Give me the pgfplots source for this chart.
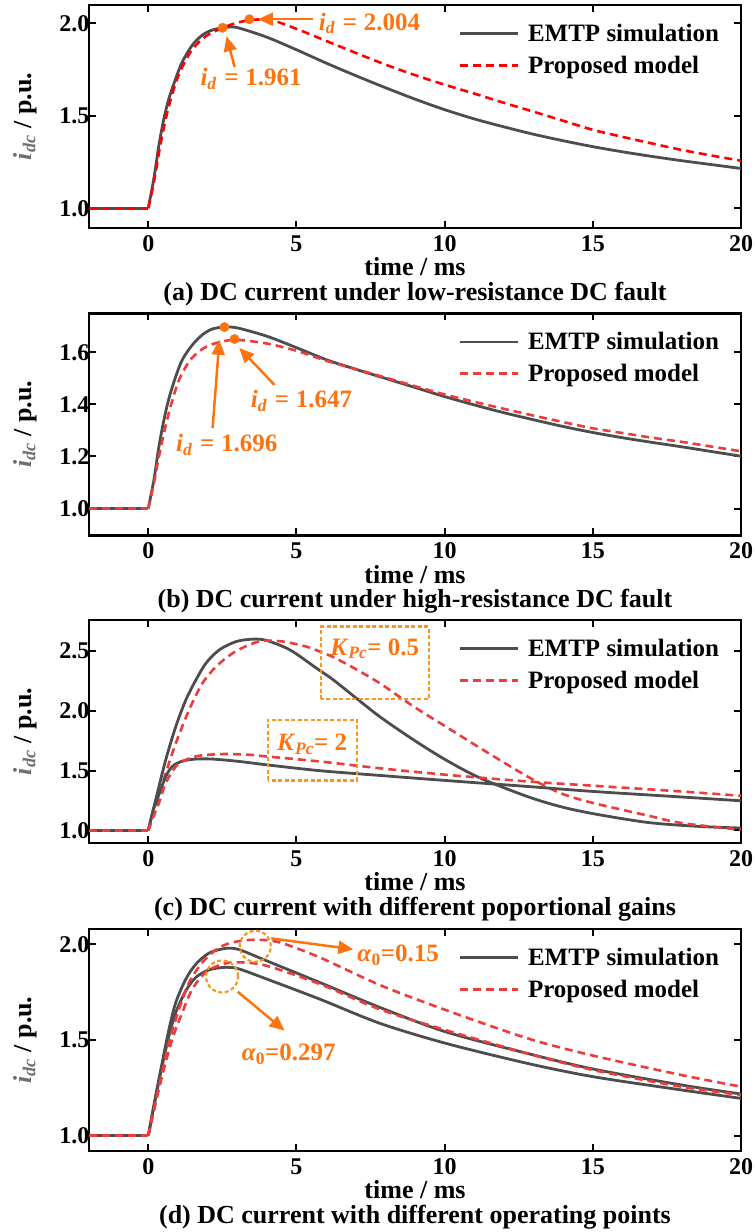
\documentclass[border=0pt]{standalone}
\usepackage{fontspec}
\setmainfont{Liberation Serif}
\usepackage{pgfplots}
\pgfplotsset{compat=1.18}
\usetikzlibrary{arrows.meta}
\definecolor{emtpc}{RGB}{77,77,77}
\definecolor{redA}{RGB}{255,0,0}
\definecolor{redB}{RGB}{236,60,60}
\definecolor{ann}{RGB}{255,115,15}
\definecolor{annbox}{RGB}{250,150,30}
\definecolor{ylab}{RGB}{110,110,110}
\newcommand{\tickfont}{\fontsize{24}{28}\selectfont\bfseries}
\newcommand{\labfont}{\fontsize{26}{30}\selectfont\bfseries}
\newcommand{\annfont}{\fontsize{25}{30}\selectfont\bfseries}
\newcommand{\idd}{\textit{i}\textsubscript{\textit{d}}\hspace{0.3em}=\hspace{0.27em}}
\tikzset{
 annarrow/.style={ann, line width=2.5pt, -{Triangle[length=15pt,width=13pt]}},
 anntext/.style={ann, font=\annfont, inner sep=0pt},
 boxstyle/.style={annbox, line width=2.2pt, dash pattern=on 4pt off 2.5pt},
 captext/.style={font=\labfont, inner sep=0pt},
}
\pgfplotsset{
 myax/.style={
  scale only axis, width=652pt, height=223pt,
  xmin=-2, xmax=20, xtick={0,5,10,15,20},
  axis line style={line width=2.4pt},
  tick style={line width=2pt, black},
  major tick length=7pt,
  tick align=inside,
  clip=false,
  tick label style={font=\tickfont},
  /pgf/number format/assume math mode=true,
  yticklabel style={/pgf/number format/fixed, /pgf/number format/fixed zerofill, /pgf/number format/precision=1, xshift=4pt},
  xticklabel style={yshift=-4pt},
  xlabel={time / ms},
  xlabel style={font=\labfont, inner sep=0pt, at={(rel axis cs:0.5,0)}, anchor=center, yshift=-39pt},
  ylabel={\textcolor{ylab}{\textit{i}\textsubscript{\textit{dc}}} / p.u.},
  ylabel style={font=\labfont, at={(rel axis cs:-0.0982,0.5)}, anchor=center},
  legend style={draw=none, fill=none, at={(rel axis cs:0.566,1)}, anchor=north west, yshift=-17pt, font=\annfont, row sep=9pt, column sep=7pt, inner sep=0pt},
  legend cell align=left,
  legend image code/.code={\draw[##1] (0pt,0pt) -- (58pt,0pt);},
 },
 emtpline/.style={color=emtpc, line width=2.8pt, no markers},
 redline/.style={color=redB, line width=2.6pt, dash pattern=on 8pt off 5pt, no markers},
}
\begin{document}
\begin{tikzpicture}
\useasboundingbox (0,0) rectangle (755pt,-1232pt);
% ---------------- (a)
\begin{axis}[myax, at={(89pt,-5pt)}, anchor=north west, ymin=0.893, ymax=2.099, ytick={1,1.5,2}]
\addplot[emtpline] coordinates {(-2,1) (0,1)};
\addlegendentry{EMTP simulation}
\addplot[redline, color=redA] coordinates {(-2,1) (0,1)};
\addlegendentry{Proposed model}
\addplot[emtpline, smooth, forget plot] coordinates {(0,1) (0.19,1.162) (0.36,1.342) (0.53,1.486) (0.70,1.595) (0.93,1.703) (1.15,1.792) (1.49,1.883) (1.83,1.937) (2.17,1.964) (2.62,1.978) (3.0,1.977) (4.0,1.925) (5.0,1.857) (6.0,1.785) (7.0,1.717) (8.0,1.652) (9.0,1.59) (10.0,1.533) (11,1.483) (12,1.44) (13,1.40) (14,1.365) (15,1.333) (16,1.305) (17,1.28) (18,1.257) (19,1.236) (20,1.215)};
\addplot[redline, color=redA, smooth, forget plot] coordinates {(0,1) (0.19,1.14) (0.36,1.30) (0.53,1.44) (0.70,1.555) (0.93,1.68) (1.15,1.765) (1.49,1.86) (1.94,1.93) (2.51,1.976) (3.07,2.006) (3.6,2.02) (4.2,2.015) (5.0,1.97) (6.0,1.905) (7.0,1.84) (8.0,1.777) (9.0,1.72) (10.0,1.668) (11,1.62) (12,1.57) (13,1.522) (14,1.473) (15,1.424) (16,1.386) (17,1.35) (18,1.315) (19,1.285) (20,1.257)};
\addplot[only marks, mark=*, mark size=4.7pt, color=ann, forget plot] coordinates {(2.51,1.976) (3.41,2.022)};
\draw[annarrow] (axis cs:2.91,1.765) -- (axis cs:2.64,1.93);
\node[anntext] at (axis cs:3.47,1.70) {\idd 1.961};
\draw[annarrow] (axis cs:5.56,2.022) -- (axis cs:3.70,2.022);
\node[anntext, anchor=west] at (axis cs:5.75,2.0) {\idd 2.004};
\node[captext] at (rel axis cs:0.5,0) [yshift=-66pt] {(a) DC current under low-resistance DC fault};
\end{axis}
% ---------------- (b)
\begin{axis}[myax, at={(89pt,-313.3pt)}, anchor=north west, ymin=0.897, ymax=1.75, ytick={1,1.2,1.4,1.6}, height=222pt]
\addplot[emtpline] coordinates {(-2,1) (0,1)};
\addlegendentry{EMTP simulation}
\addplot[redline] coordinates {(-2,1) (0,1)};
\addlegendentry{Proposed model}
\addplot[emtpline, smooth, forget plot] coordinates {(0,1) (0.19,1.11) (0.36,1.238) (0.53,1.341) (0.70,1.424) (0.93,1.508) (1.15,1.572) (1.49,1.629) (1.83,1.668) (2.17,1.69) (2.57,1.697) (3.0,1.694) (4.0,1.662) (5.0,1.618) (6.0,1.572) (7.0,1.535) (8.0,1.50) (9.0,1.465) (10.0,1.43) (11,1.398) (12,1.368) (13,1.341) (14,1.315) (15,1.292) (16,1.272) (17,1.254) (18,1.237) (19,1.219) (20,1.201)};
\addplot[redline, smooth, forget plot] coordinates {(0,1) (0.19,1.097) (0.36,1.20) (0.53,1.29) (0.70,1.37) (0.82,1.418) (1.04,1.495) (1.38,1.565) (1.72,1.604) (2.06,1.627) (2.51,1.642) (3.0,1.648) (4.0,1.634) (5.0,1.606) (6.0,1.568) (7.0,1.536) (8.0,1.503) (9.0,1.47) (10.0,1.438) (11,1.41) (12,1.383) (13,1.357) (14,1.332) (15,1.308) (16,1.29) (17,1.272) (18,1.256) (19,1.238) (20,1.22)};
\addplot[only marks, mark=*, mark size=4.7pt, color=ann, forget plot] coordinates {(2.57,1.697) (2.91,1.651)};
\draw[annarrow] (axis cs:2.17,1.309) -- (axis cs:2.40,1.648);
\node[anntext] at (axis cs:2.65,1.245) {\idd 1.696};
\draw[annarrow] (axis cs:4.26,1.475) -- (axis cs:3.07,1.617);
\node[anntext] at (axis cs:5.17,1.412) {\idd 1.647};
\node[captext] at (rel axis cs:0.5,0) [yshift=-66pt] {(b) DC current under high-resistance DC fault};
\end{axis}
% ---------------- (c)
\begin{axis}[myax, at={(89pt,-620pt)}, anchor=north west, ymin=0.895, ymax=2.76, ytick={1,1.5,2,2.5}]
\addplot[emtpline] coordinates {(-2,1) (0,1)};
\addlegendentry{EMTP simulation}
\addplot[redline] coordinates {(-2,1) (0,1)};
\addlegendentry{Proposed model}
\addplot[emtpline, smooth, forget plot] coordinates {(0,1) (0.25,1.257) (0.59,1.591) (0.93,1.87) (1.27,2.093) (1.61,2.26) (1.95,2.40) (2.40,2.511) (2.97,2.58) (3.53,2.60) (3.99,2.589) (4.78,2.51) (5.67,2.358) (6.24,2.26) (7.0,2.11) (7.82,1.95) (8.95,1.758) (10.03,1.591) (11.2,1.438) (12.79,1.284) (13.9,1.20) (15.02,1.14) (16.85,1.067) (18.5,1.035) (20,1.02)};
\addplot[redline, smooth, forget plot] coordinates {(0,1) (0.25,1.20) (0.59,1.48) (0.93,1.73) (1.38,2.01) (1.83,2.232) (2.29,2.371) (2.85,2.483) (3.41,2.553) (3.86,2.586) (4.54,2.58) (5.33,2.538) (5.78,2.497) (6.24,2.45) (7.0,2.35) (7.82,2.23) (8.95,2.037) (10.03,1.87) (11.2,1.689) (12.79,1.452) (13.9,1.313) (15.02,1.229) (16.85,1.125) (17.99,1.062) (20,1.006)};
\addplot[emtpline, smooth, forget plot] coordinates {(0,1) (0.18,1.18) (0.36,1.30) (0.59,1.45) (0.81,1.535) (1.15,1.58) (1.61,1.597) (2.17,1.597) (3.07,1.577) (3.99,1.549) (5.78,1.50) (7.82,1.46) (10.03,1.418) (12.79,1.368) (15.02,1.326) (17.99,1.28) (20,1.248)};
\addplot[redline, smooth, forget plot] coordinates {(0,1) (0.18,1.12) (0.36,1.229) (0.59,1.396) (0.93,1.535) (1.27,1.591) (1.72,1.625) (2.51,1.639) (3.41,1.633) (3.99,1.619) (5.78,1.577) (7.82,1.52) (10.03,1.466) (12.79,1.41) (15.02,1.374) (17.99,1.326) (20,1.29)};
\draw[boxstyle] (axis cs:4.03,1.418) rectangle (axis cs:7.05,1.926);
\node[anntext] at (axis cs:5.53,1.72) {\textit{K}\textsubscript{\textit{Pc}}= 2};
\draw[boxstyle] (axis cs:5.84,2.099) rectangle (axis cs:9.46,2.706);
\node[anntext] at (axis cs:7.64,2.52) {\textit{K}\textsubscript{\textit{Pc}}= 0.5};
\node[captext] at (rel axis cs:0.5,0) [yshift=-66pt] {(c) DC current with different poportional gains};
\end{axis}
% ---------------- (d)
\begin{axis}[myax, at={(89pt,-929pt)}, anchor=north west, ymin=0.92, ymax=2.08, ytick={1,1.5,2}, height=222pt]
\addplot[emtpline] coordinates {(-2,1) (0,1)};
\addlegendentry{EMTP simulation}
\addplot[redline] coordinates {(-2,1) (0,1)};
\addlegendentry{Proposed model}
\addplot[emtpline, smooth, forget plot] coordinates {(0,1) (0.25,1.209) (0.47,1.383) (0.70,1.557) (0.93,1.697) (1.27,1.819) (1.61,1.897) (2.06,1.955) (2.62,1.979) (3.07,1.972) (3.99,1.914) (5.78,1.801) (7.82,1.67) (10.03,1.543) (12.79,1.43) (15.02,1.348) (17.99,1.265) (20,1.218)};
\addplot[emtpline, smooth, forget plot] coordinates {(0,1) (0.25,1.20) (0.47,1.366) (0.70,1.522) (0.93,1.645) (1.27,1.758) (1.61,1.828) (2.06,1.867) (2.62,1.880) (3.07,1.871) (3.99,1.819) (5.78,1.714) (7.82,1.587) (10.03,1.483) (12.79,1.378) (15.02,1.308) (17.99,1.239) (20,1.195)};
\addplot[redline, smooth, forget plot] coordinates {(0,1) (0.25,1.18) (0.47,1.331) (0.70,1.488) (1.04,1.662) (1.38,1.801) (1.83,1.906) (2.40,1.984) (2.97,2.014) (3.64,2.024) (4.43,2.01) (5.78,1.932) (7.82,1.787) (10.03,1.657) (12.79,1.509) (15.02,1.418) (17.99,1.317) (20,1.256)};
\addplot[redline, smooth, forget plot] coordinates {(0,1) (0.25,1.17) (0.47,1.314) (0.81,1.505) (1.15,1.645) (1.49,1.767) (1.94,1.854) (2.51,1.897) (3.07,1.906) (3.99,1.888) (5.78,1.793) (7.82,1.66) (10.03,1.552) (12.79,1.43) (15.02,1.343) (17.99,1.256) (20,1.213)};
\draw[boxstyle] (axis cs:3.61,1.990) circle [radius=15.5pt];
\draw[boxstyle] (axis cs:2.49,1.832) circle [radius=16pt];
\draw[annarrow] (axis cs:4.15,2.031) -- (axis cs:6.92,1.974);
\node[anntext, anchor=west] at (axis cs:7.05,1.944) {\textit{α}\textsubscript{0}=0.15};
\draw[annarrow] (axis cs:3.02,1.752) -- (axis cs:4.6,1.549);
\node[anntext] at (axis cs:4.74,1.425) {\textit{α}\textsubscript{0}=0.297};
\node[captext] at (rel axis cs:0.5,0) [yshift=-66pt] {(d) DC current with different operating points};
\end{axis}
\end{tikzpicture}
\end{document}
